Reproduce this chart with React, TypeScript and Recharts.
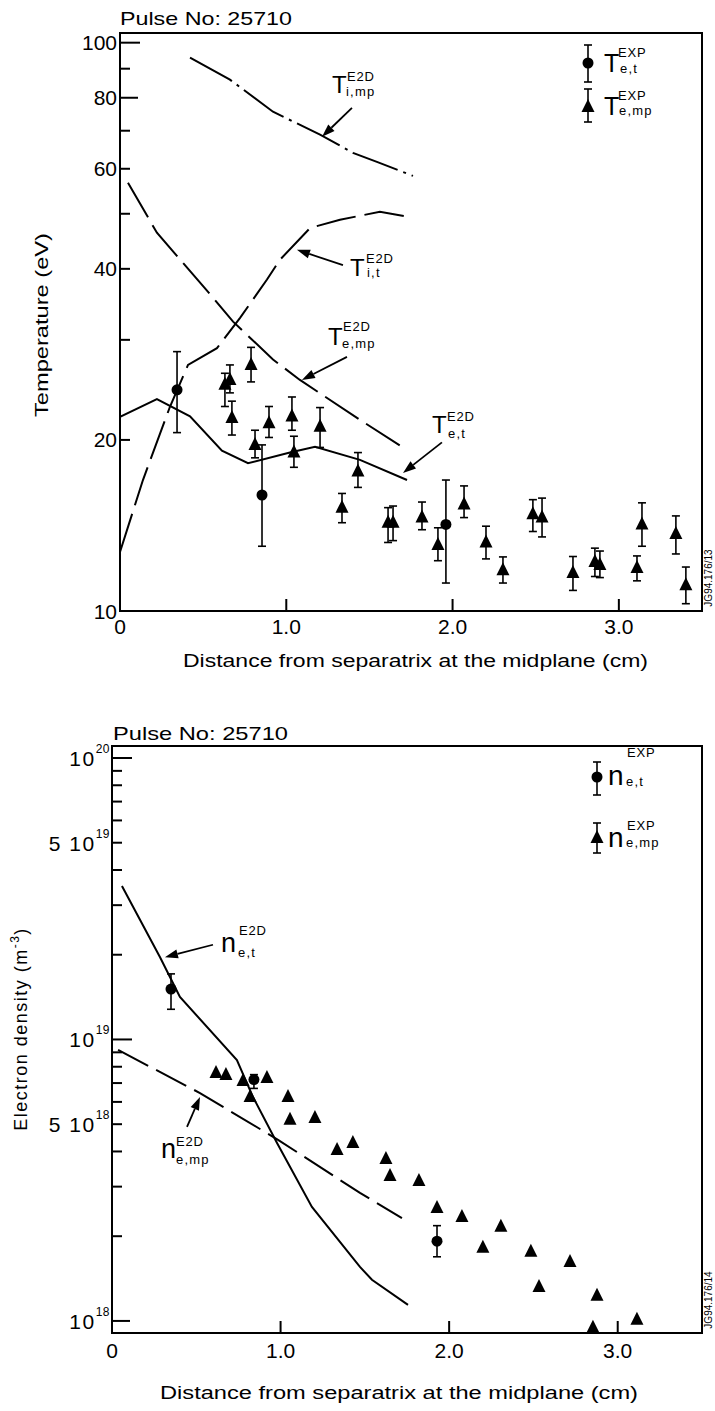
import React from 'react';
import { ComposedChart, Line, Scatter, XAxis, YAxis, ErrorBar, ReferenceLine, ReferenceArea } from 'recharts';

const FONT = "'Liberation Sans', Arial, Helvetica, sans-serif";

// ---------- Top chart: temperatures (eV) vs distance (cm) ----------
const xTicks = [0, 1, 2, 3];
const tempTicks = [10, 20, 30, 40, 50, 60, 70, 80, 90, 100];
const tempLabels = [10, 20, 40, 60, 80, 100];

const tiMp = [
  { x: 0.421, y: 94.1 }, { x: 0.661, y: 86.1 }, { x: 0.92, y: 75.6 }, { x: 1.203, y: 68.9 },
  { x: 1.401, y: 64.0 }, { x: 1.545, y: 61.7 }, { x: 1.762, y: 58.3 },
];
const tiT = [
  { x: 0.0, y: 12.7 }, { x: 0.138, y: 17.0 }, { x: 0.301, y: 22.9 }, { x: 0.409, y: 27.1 },
  { x: 0.583, y: 29.0 }, { x: 0.722, y: 32.8 }, { x: 0.884, y: 38.3 }, { x: 0.962, y: 41.5 },
  { x: 1.143, y: 47.2 }, { x: 1.323, y: 48.8 }, { x: 1.563, y: 50.4 }, { x: 1.732, y: 49.4 },
];
const teMp = [
  { x: 0.048, y: 56.7 }, { x: 0.222, y: 46.3 }, { x: 0.559, y: 35.6 }, { x: 0.68, y: 32.3 },
  { x: 0.92, y: 27.7 }, { x: 1.082, y: 25.5 }, { x: 1.443, y: 21.7 }, { x: 1.702, y: 19.4 },
];
const teT = [
  { x: 0.0, y: 21.96 }, { x: 0.222, y: 23.6 }, { x: 0.421, y: 22.0 }, { x: 0.613, y: 19.15 },
  { x: 0.77, y: 18.2 }, { x: 1.022, y: 19.0 }, { x: 1.173, y: 19.45 }, { x: 1.443, y: 18.45 },
  { x: 1.726, y: 17.0 },
];
const teTExp = [
  { x: 0.343, y: 24.5, err: [3.9, 4.1] },
  { x: 0.854, y: 16.0, err: [3.0, 3.6] },
  { x: 1.96, y: 14.2, err: [3.0, 2.8] },
];
const teMpExp = [
  { x: 0.631, y: 25.0, err: [2.1, 1.2] },
  { x: 0.661, y: 25.5, err: [1.3, 1.6] },
  { x: 0.788, y: 27.1, err: [1.8, 2.0] },
  { x: 0.673, y: 21.85, err: [1.45, 1.55] },
  { x: 0.812, y: 19.6, err: [1.0, 1.2] },
  { x: 0.896, y: 21.4, err: [1.2, 1.5] },
  { x: 1.034, y: 22.0, err: [1.2, 1.8] },
  { x: 1.046, y: 19.0, err: [1.1, 1.3] },
  { x: 1.203, y: 21.1, err: [1.7, 1.7] },
  { x: 1.335, y: 15.2, err: [0.9, 0.9] },
  { x: 1.431, y: 17.6, err: [1.1, 1.4] },
  { x: 1.612, y: 14.3, err: [1.1, 0.9] },
  { x: 1.642, y: 14.3, err: [1.0, 1.0] },
  { x: 1.816, y: 14.6, err: [0.7, 0.95] },
  { x: 1.912, y: 13.06, err: [0.8, 0.95] },
  { x: 2.069, y: 15.4, err: [0.8, 1.2] },
  { x: 2.201, y: 13.2, err: [0.85, 0.9] },
  { x: 2.303, y: 11.8, err: [0.6, 0.65] },
  { x: 2.483, y: 14.8, err: [1.0, 0.9] },
  { x: 2.538, y: 14.6, err: [1.1, 1.2] },
  { x: 2.724, y: 11.67, err: [0.8, 0.8] },
  { x: 2.856, y: 12.2, err: [0.7, 0.7] },
  { x: 2.886, y: 12.05, err: [0.6, 0.7] },
  { x: 3.109, y: 11.9, err: [0.6, 0.6] },
  { x: 3.139, y: 14.2, err: [1.2, 1.3] },
  { x: 3.343, y: 13.66, err: [1.06, 1.04] },
  { x: 3.403, y: 11.1, err: [0.8, 0.85] },
];

// ---------- Bottom chart: electron density (m^-3) vs distance (cm) ----------
const densTicks = [
  1e18, 2e18, 3e18, 4e18, 5e18, 6e18, 7e18, 8e18, 9e18,
  1e19, 2e19, 3e19, 4e19, 5e19, 6e19, 7e19, 8e19, 9e19, 1e20,
];
const neT = [
  { x: 0.059, y: 3.51e19 }, { x: 0.285, y: 1.96e19 }, { x: 0.403, y: 1.416e19 }, { x: 0.741, y: 8.45e18 },
  { x: 0.836, y: 6.25e18 }, { x: 0.979, y: 4.29e18 }, { x: 1.186, y: 2.54e18 }, { x: 1.471, y: 1.556e18 },
  { x: 1.542, y: 1.4e18 }, { x: 1.756, y: 1.14e18 },
];
const neMp = [
  { x: 0.036, y: 9.18e18 }, { x: 0.522, y: 6.45e18 }, { x: 0.985, y: 4.4e18 }, { x: 1.471, y: 2.85e18 },
  { x: 1.72, y: 2.32e18 },
];
const neTExp = [
  { x: 0.35, y: 1.51e19, err: [0.23e19, 0.2e19] },
  { x: 0.842, y: 7.2e18, err: [0.5e18, 0.3e18] },
  { x: 1.928, y: 1.92e18, err: [0.23e18, 0.26e18] },
];
const neMpExp = [
  { x: 0.617, y: 7.6e18 }, { x: 0.676, y: 7.48e18 }, { x: 0.777, y: 7.12e18 }, { x: 0.819, y: 6.25e18 },
  { x: 0.919, y: 7.3e18 }, { x: 1.044, y: 6.25e18 }, { x: 1.056, y: 5.18e18 }, { x: 1.204, y: 5.26e18 },
  { x: 1.335, y: 4.05e18 }, { x: 1.429, y: 4.29e18 }, { x: 1.625, y: 3.76e18 }, { x: 1.649, y: 3.27e18 },
  { x: 1.821, y: 3.14e18 }, { x: 1.928, y: 2.52e18 }, { x: 2.076, y: 2.34e18 }, { x: 2.2, y: 1.82e18 },
  { x: 2.307, y: 2.16e18 }, { x: 2.485, y: 1.76e18 }, { x: 2.533, y: 1.32e18 }, { x: 2.717, y: 1.62e18 },
  { x: 2.853, y: 9.45e17 }, { x: 2.877, y: 1.23e18 }, { x: 3.114, y: 1.01e18 },
];

// ---------- drawing helpers ----------
const Tri = (p: any) => {
  const { cx, cy } = p;
  if (cx == null || cy == null) return <g />;
  return <polygon points={`${cx},${cy - 8} ${cx - 6.5},${cy + 5} ${cx + 6.5},${cy + 5}`} fill="#000" />;
};
const Dot = (p: any) => {
  const { cx, cy } = p;
  if (cx == null || cy == null) return <g />;
  return <circle cx={cx} cy={cy} r={5.5} fill="#000" />;
};

const Arrow = (p: any) => {
  const { x1, y1, x2, y2 } = p;
  const ang = Math.atan2(y2 - y1, x2 - x1);
  const L = 13;
  const W = 4.5;
  const bx = x2 - L * Math.cos(ang);
  const by = y2 - L * Math.sin(ang);
  const px = -Math.sin(ang) * W;
  const py = Math.cos(ang) * W;
  return (
    <g>
      <line x1={x1} y1={y1} x2={bx} y2={by} stroke="#000" strokeWidth={1.8} />
      <polygon points={`${x2},${y2} ${bx + px},${by + py} ${bx - px},${by - py}`} fill="#000" />
    </g>
  );
};

const XTick = (dy: number) => (p: any) => {
  const { x, y, payload } = p;
  const v = payload.value;
  return (
    <g>
      {v !== 0 && <line x1={x} y1={y} x2={x} y2={y - 12} stroke="#000" strokeWidth={2} />}
      <text x={x} y={y + dy} textAnchor="middle" fontSize={21} fontFamily={FONT} fill="#000">
        {v === 0 ? '0' : v.toFixed(1)}
      </text>
    </g>
  );
};

const TempTick = (p: any) => {
  const { x, y, payload } = p;
  const v = payload.value;
  const len = v === 100 ? 20 : v === 80 ? 18 : 10;
  return (
    <g>
      <line x1={x} y1={y} x2={x + len} y2={y} stroke="#000" strokeWidth={2} />
      {tempLabels.includes(v) && (
        <text x={x - 3} y={y + 7.5} textAnchor="end" fontSize={21} fontFamily={FONT} fill="#000">
          {v}
        </text>
      )}
    </g>
  );
};

const DensTick = (p: any) => {
  const { x, y, payload } = p;
  const v = payload.value;
  const e = Math.floor(Math.log10(v) + 1e-9);
  const m = Math.round(v / Math.pow(10, e));
  const len = m === 1 ? (e === 18 ? 18 : 20) : 10;
  const labeled = m === 1 || m === 5;
  return (
    <g>
      <line x1={x} y1={y} x2={x + len} y2={y} stroke="#000" strokeWidth={2} />
      {labeled && (
        <text x={x - 2} y={y + 8} textAnchor="end" fontSize={21} fontFamily={FONT} fill="#000" letterSpacing={1.5}>
          {m === 5 ? '5 10' : '10'}
          <tspan dy={-13} fontSize={12} letterSpacing={0.5}>{String(e)}</tspan>
        </text>
      )}
    </g>
  );
};

type SymProps = {
  x: number; y: number; main: string; sup: string; sub: string;
  sx: number; sy: number; bx: number; by: number; size?: number;
};
const Sym = ({ x, y, main, sup, sub, sx, sy, bx, by, size = 24 }: SymProps) => (
  <g fontFamily={FONT} fill="#000">
    <text x={x} y={y} fontSize={size}>{main}</text>
    <text x={sx} y={sy} fontSize={13} letterSpacing={0.8}>{sup}</text>
    <text x={bx} y={by} fontSize={13} letterSpacing={1.2}>{sub}</text>
  </g>
);

const LegendMark = ({ cx, cy, top, bottom, tri }: { cx: number; cy: number; top: number; bottom: number; tri: boolean }) => (
  <g>
    <line x1={cx} y1={top} x2={cx} y2={bottom} stroke="#000" strokeWidth={1.6} />
    <line x1={cx - 4} y1={top} x2={cx + 4} y2={top} stroke="#000" strokeWidth={1.6} />
    <line x1={cx - 4} y1={bottom} x2={cx + 4} y2={bottom} stroke="#000" strokeWidth={1.6} />
    {tri ? <Tri cx={cx} cy={cy} /> : <Dot cx={cx} cy={cy} />}
  </g>
);

const axisLine = { stroke: '#000', strokeWidth: 2 };

export default function App() {
  return (
    <div style={{ position: 'absolute', left: 0, top: 0, width: 715, height: 1411, background: '#fff' }}>
      <div style={{ position: 'absolute', left: 0, top: 0 }}>
        <ComposedChart width={715} height={700} margin={{ top: 33, right: 13, bottom: 0, left: 0 }}>
          <XAxis
            type="number" dataKey="x" domain={[0, 3.5]} ticks={xTicks} allowDataOverflow
            height={89} axisLine={axisLine} tickLine={false} tickSize={0} tickMargin={0}
            interval={0} tick={XTick(23)}
          />
          <YAxis
            type="number" dataKey="y" scale="log" domain={[10, 104]} ticks={tempTicks} allowDataOverflow
            width={120} axisLine={axisLine} tickLine={false} tickSize={0} tickMargin={0}
            interval={0} tick={TempTick}
          />
          <ReferenceArea x1={0} x2={3.5} y1={10} y2={104} fill="none" stroke="#000" strokeWidth={2} ifOverflow="visible" />
          <Line data={tiMp} dataKey="y" type="linear" stroke="#000" strokeWidth={2} strokeDasharray="48 6 3 6" dot={false} isAnimationActive={false} />
          <Line data={tiT} dataKey="y" type="linear" stroke="#000" strokeWidth={2} strokeDasharray="40 9" dot={false} isAnimationActive={false} />
          <Line data={teMp} dataKey="y" type="linear" stroke="#000" strokeWidth={2} strokeDasharray="40 9" dot={false} isAnimationActive={false} />
          <Line data={teT} dataKey="y" type="linear" stroke="#000" strokeWidth={2} dot={false} isAnimationActive={false} />
          <ReferenceLine segment={[{ x: 1.395, y: 76.8 }, { x: 1.215, y: 68.3 }]} shape={Arrow} />
          <ReferenceLine segment={[{ x: 1.341, y: 40.6 }, { x: 1.064, y: 43.2 }]} shape={Arrow} />
          <ReferenceLine segment={[{ x: 1.365, y: 28.0 }, { x: 1.094, y: 25.5 }]} shape={Arrow} />
          <ReferenceLine segment={[{ x: 1.936, y: 19.8 }, { x: 1.702, y: 17.5 }]} shape={Arrow} />
          <Scatter data={teMpExp} dataKey="y" shape={Tri} isAnimationActive={false}>
            <ErrorBar dataKey="err" direction="y" width={4} stroke="#000" strokeWidth={1.6} isAnimationActive={false} />
          </Scatter>
          <Scatter data={teTExp} dataKey="y" shape={Dot} isAnimationActive={false}>
            <ErrorBar dataKey="err" direction="y" width={4} stroke="#000" strokeWidth={1.6} isAnimationActive={false} />
          </Scatter>
        </ComposedChart>
      </div>

      <div style={{ position: 'absolute', left: 0, top: 700 }}>
        <ComposedChart width={715} height={711} margin={{ top: 46, right: 13, bottom: 0, left: 0 }}>
          <XAxis
            type="number" dataKey="x" domain={[0, 3.5]} ticks={xTicks} allowDataOverflow
            height={78} axisLine={axisLine} tickLine={false} tickSize={0} tickMargin={0}
            interval={0} tick={XTick(25)}
          />
          <YAxis
            type="number" dataKey="y" scale="log" domain={[9.06e17, 1.103e20]} ticks={densTicks} allowDataOverflow
            width={112} axisLine={axisLine} tickLine={false} tickSize={0} tickMargin={0}
            interval={0} tick={DensTick}
          />
          <ReferenceArea x1={0} x2={3.5} y1={9.06e17} y2={1.103e20} fill="none" stroke="#000" strokeWidth={2} ifOverflow="visible" />
          <Line data={neT} dataKey="y" type="linear" stroke="#000" strokeWidth={2} dot={false} isAnimationActive={false} />
          <Line data={neMp} dataKey="y" type="linear" stroke="#000" strokeWidth={2} strokeDasharray="34 9" dot={false} isAnimationActive={false} />
          <ReferenceLine segment={[{ x: 0.599, y: 2.17e19 }, { x: 0.314, y: 1.96e19 }]} shape={Arrow} />
          <ReferenceLine segment={[{ x: 0.445, y: 4.89e18 }, { x: 0.522, y: 6.25e18 }]} shape={Arrow} />
          <Scatter data={neMpExp} dataKey="y" shape={Tri} isAnimationActive={false} />
          <Scatter data={neTExp} dataKey="y" shape={Dot} isAnimationActive={false}>
            <ErrorBar dataKey="err" direction="y" width={4} stroke="#000" strokeWidth={1.6} isAnimationActive={false} />
          </Scatter>
        </ComposedChart>
      </div>

      <svg width={715} height={1411} style={{ position: 'absolute', left: 0, top: 0, pointerEvents: 'none' }}>
        <g fontFamily={FONT} fill="#000">
          {/* top chart titles */}
          <text x={120} y={25} fontSize={18.5} textLength={172} lengthAdjust="spacingAndGlyphs">Pulse No: 25710</text>
          <text transform="translate(48,325) rotate(-90)" textAnchor="middle" fontSize={18} textLength={184} lengthAdjust="spacingAndGlyphs">Temperature (eV)</text>
          <text x={415.5} y={667} textAnchor="middle" fontSize={17.5} textLength={465} lengthAdjust="spacingAndGlyphs">Distance from separatrix at the midplane (cm)</text>
          <text transform="translate(712,578) rotate(-90)" textAnchor="middle" fontSize={10}>JG94.176/13</text>

          {/* bottom chart titles */}
          <text x={113} y={740} fontSize={18.5} textLength={175} lengthAdjust="spacingAndGlyphs">Pulse No: 25710</text>
          <text transform="translate(27,1029) rotate(-90)" textAnchor="middle" fontSize={18} letterSpacing={1.5}>
            Electron density (m<tspan dy={-8} fontSize={12}>-3</tspan><tspan dy={8}>)</tspan>
          </text>
          <text x={399} y={1399} textAnchor="middle" fontSize={17.5} textLength={478} lengthAdjust="spacingAndGlyphs">Distance from separatrix at the midplane (cm)</text>
          <text transform="translate(712,1300) rotate(-90)" textAnchor="middle" fontSize={10}>JG94.176/14</text>
        </g>

        {/* top legend */}
        <LegendMark cx={588} cy={63} top={45} bottom={82} tri={false} />
        <Sym x={604} y={72} main="T" sup="EXP" sub="e,t" sx={618} sy={57} bx={620} by={73} size={25} />
        <LegendMark cx={588} cy={107} top={89} bottom={122} tri />
        <Sym x={604} y={115} main="T" sup="EXP" sub="e,mp" sx={618} sy={100} bx={619} by={115} size={25} />

        {/* top annotations */}
        <Sym x={332} y={93} main="T" sup="E2D" sub="i,mp" sx={347} sy={81} bx={346} by={96} />
        <Sym x={350} y={276} main="T" sup="E2D" sub="i,t" sx={366} sy={263} bx={367} by={277} />
        <Sym x={328} y={345} main="T" sup="E2D" sub="e,mp" sx={343} sy={331} bx={342} by={348} />
        <Sym x={432} y={433} main="T" sup="E2D" sub="e,t" sx={447} sy={421} bx={448} by={438} />

        {/* bottom legend */}
        <LegendMark cx={597} cy={777} top={762} bottom={795} tri={false} />
        <Sym x={608} y={785} main="n" sup="EXP" sub="e,t" sx={627} sy={757} bx={626} by={786} size={28} />
        <LegendMark cx={597} cy={838} top={823} bottom={853} tri />
        <Sym x={608} y={847} main="n" sup="EXP" sub="e,mp" sx={627} sy={830} bx={626} by={847} size={28} />

        {/* bottom annotations */}
        <Sym x={221} y={952} main="n" sup="E2D" sub="e,t" sx={239} sy={935} bx={238} by={957} size={27} />
        <Sym x={161} y={1158} main="n" sup="E2D" sub="e,mp" sx={176} sy={1146} bx={176} by={1164} size={27} />
      </svg>
    </div>
  );
}
